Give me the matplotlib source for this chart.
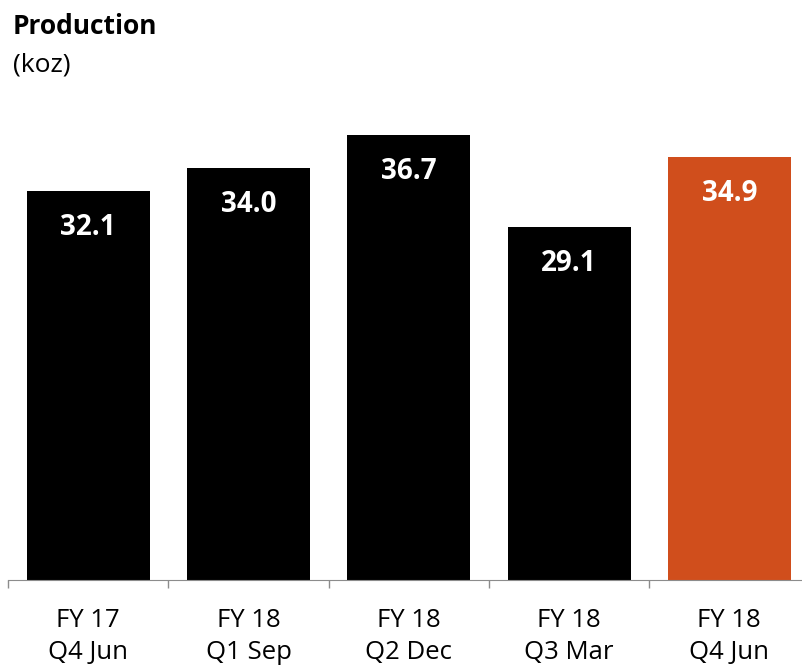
import numpy as np
import matplotlib.pyplot as plt

plt.rcParams['font.family'] = ['Open Sans', 'DejaVu Sans']

# data
periods = ['FY 17\nQ4 Jun', 'FY 18\nQ1 Sep', 'FY 18\nQ2 Dec', 'FY 18\nQ3 Mar', 'FY 18\nQ4 Jun']
production = [32.1, 34.0, 36.7, 29.1, 34.9]
bar_colors = ['#000000', '#000000', '#000000', '#000000', '#D04E1C']

W, H = 802, 668
fig = plt.figure(figsize=(W / 100, H / 100), dpi=100)

# axes placed in pixel terms
base_y = 580
left_x = 8
cat_w = 160.3
px_per_unit = 12.12
ymax = 40
ax = fig.add_axes([left_x / W, (H - base_y) / H, 5 * cat_w / W, ymax * px_per_unit / H])

x = np.arange(len(periods))
bars = ax.bar(x, production, width=0.767, color=bar_colors)
ax.set_xlim(-0.5, len(periods) - 0.5)
ax.set_ylim(0, ymax)

for rect, val in zip(bars, production):
    ax.annotate(f'{val:.1f}', (rect.get_x() + rect.get_width() / 2, rect.get_height()),
                xytext=(0, -26), textcoords='offset points', ha='center', va='center',
                color='white', fontsize=20, fontweight='bold')

# category boundaries as ticks
ax.set_xticks(np.arange(len(periods) + 1) - 0.5, minor=False)
ax.set_xticklabels([''] * (len(periods) + 1))
ax.set_xticks(x, minor=True)
ax.set_xticklabels(periods, minor=True, fontsize=18.5, linespacing=1.4)
ax.tick_params(axis='x', which='major', length=6, color='#8c8c8c', width=1)
ax.tick_params(axis='x', which='minor', length=0, pad=20)
ax.set_yticks([])

for s in ['top', 'right', 'left']:
    ax.spines[s].set_visible(False)
ax.spines['bottom'].set_color('#8c8c8c')

fig.text(13 / W, 1 - 34 / H, 'Production', fontsize=19, fontweight='bold', ha='left', va='baseline')
fig.text(13 / W, 1 - 71 / H, '(koz)', fontsize=19, ha='left', va='baseline')

fig.savefig('out.png', dpi=100)
